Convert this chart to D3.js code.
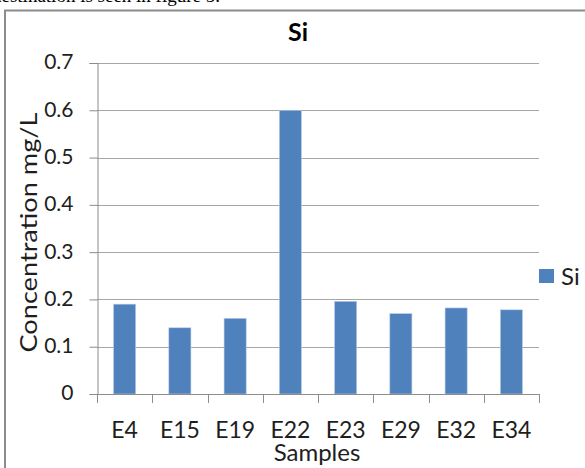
<!DOCTYPE html>
<html>
<head>
<meta charset="utf-8">
<script src="https://cdn.jsdelivr.net/npm/d3@7"></script>
<style>
  html, body { margin: 0; padding: 0; background: #fff; overflow: hidden; }
  svg { display: block; }
</style>
</head>
<body>
<svg id="chart" width="585" height="468"></svg>
<script>
// Silicon concentration per sample
const samples = ["E4", "E15", "E19", "E22", "E23", "E29", "E32", "E34"];
const siValues = [0.19, 0.14, 0.16, 0.60, 0.196, 0.17, 0.182, 0.178];
const yTicks = [0, 0.1, 0.2, 0.3, 0.4, 0.5, 0.6, 0.7];
const seriesName = "Si";

const svg = d3.select("#chart");
const font = "Lato, 'Open Sans', sans-serif";
const textColor = "#1e1e1e";

// caption line of the surrounding page, mostly above the view
svg.append("text")
  .attr("x", -8).attr("y", 2)
  .attr("font-family", "'Liberation Serif', serif")
  .attr("font-size", 19)
  .attr("fill", "#000")
  .text("destination is seen in figure 5.");

// chart frame
svg.append("rect")
  .attr("x", 5).attr("y", 10.5)
  .attr("width", 600).attr("height", 480)
  .attr("fill", "#fff")
  .attr("stroke", "#8c8c8c")
  .attr("stroke-width", 2);

const plot = { left: 97, right: 539, top: 63, bottom: 394 };

const x = d3.scaleBand()
  .domain(samples)
  .range([plot.left, plot.right])
  .paddingInner(0.6)
  .paddingOuter(0.3);

const y = d3.scaleLinear()
  .domain([0, 0.7])
  .range([plot.bottom, plot.top]);

// horizontal gridlines
svg.append("g")
  .selectAll("line")
  .data(yTicks.filter(d => d > 0))
  .join("line")
  .attr("x1", plot.left).attr("x2", plot.right)
  .attr("y1", d => Math.round(y(d)) + 0.5)
  .attr("y2", d => Math.round(y(d)) + 0.5)
  .attr("stroke", "#a6a6a6")
  .attr("stroke-width", 1);

// y axis
const yAxis = svg.append("g")
  .attr("transform", `translate(${plot.left + 0.5},0)`)
  .call(d3.axisLeft(y).tickValues(yTicks).tickSize(8).tickPadding(16)
    .tickFormat(d => d === 0 ? "0" : d3.format(".1f")(d)));
yAxis.select(".domain").attr("stroke", "#8c8c8c");
yAxis.selectAll(".tick line").attr("stroke", "#8c8c8c");
yAxis.selectAll(".tick text")
  .attr("font-family", font).attr("font-size", 21).attr("fill", textColor)
  .attr("dy", "0.28em");

// bars
svg.append("g")
  .selectAll("rect")
  .data(samples.map((s, i) => ({ s, v: siValues[i] })))
  .join("rect")
  .attr("x", d => x(d.s))
  .attr("y", d => y(d.v))
  .attr("width", x.bandwidth())
  .attr("height", d => plot.bottom - y(d.v))
  .attr("fill", "#4f81bd")
  .attr("stroke", "#b9cde5")
  .attr("stroke-width", 0.6);

// x axis with boundary ticks between categories
const xAxisG = svg.append("g");
xAxisG.append("line")
  .attr("x1", plot.left).attr("x2", plot.right)
  .attr("y1", plot.bottom + 0.5).attr("y2", plot.bottom + 0.5)
  .attr("stroke", "#8c8c8c");
const step = (plot.right - plot.left) / samples.length;
xAxisG.selectAll("line.tk")
  .data(d3.range(samples.length + 1))
  .join("line")
  .attr("class", "tk")
  .attr("x1", i => Math.round(plot.left + i * step) + 0.5)
  .attr("x2", i => Math.round(plot.left + i * step) + 0.5)
  .attr("y1", plot.bottom)
  .attr("y2", plot.bottom + 9)
  .attr("stroke", "#8c8c8c");
xAxisG.selectAll("text")
  .data(samples)
  .join("text")
  .attr("x", d => x(d) + x.bandwidth() / 2)
  .attr("y", 438)
  .attr("text-anchor", "middle")
  .attr("font-family", font).attr("font-size", 23).attr("fill", textColor)
  .text(d => d);

// axis titles
svg.append("text")
  .attr("x", 317).attr("y", 461)
  .attr("text-anchor", "middle")
  .attr("font-family", font).attr("font-size", 24).attr("fill", textColor)
  .text("Samples");

svg.append("text")
  .attr("transform", "translate(37,232.5) rotate(-90)")
  .attr("text-anchor", "middle")
  .attr("font-family", font).attr("font-size", 24).attr("fill", textColor)
  .attr("textLength", 240).attr("lengthAdjust", "spacingAndGlyphs")
  .text("Concentration mg/L");

// chart title
svg.append("text")
  .attr("x", 298).attr("y", 41)
  .attr("text-anchor", "middle")
  .attr("font-family", font).attr("font-size", 25).attr("font-weight", "bold")
  .attr("fill", "#000")
  .text(seriesName);

// legend
const legend = svg.append("g").attr("transform", "translate(539,269)");
legend.append("rect")
  .attr("width", 15).attr("height", 14)
  .attr("fill", "#4f81bd");
legend.append("text")
  .attr("x", 22).attr("y", 16)
  .attr("font-family", font).attr("font-size", 24).attr("fill", textColor)
  .text(seriesName);
</script>
</body>
</html>
